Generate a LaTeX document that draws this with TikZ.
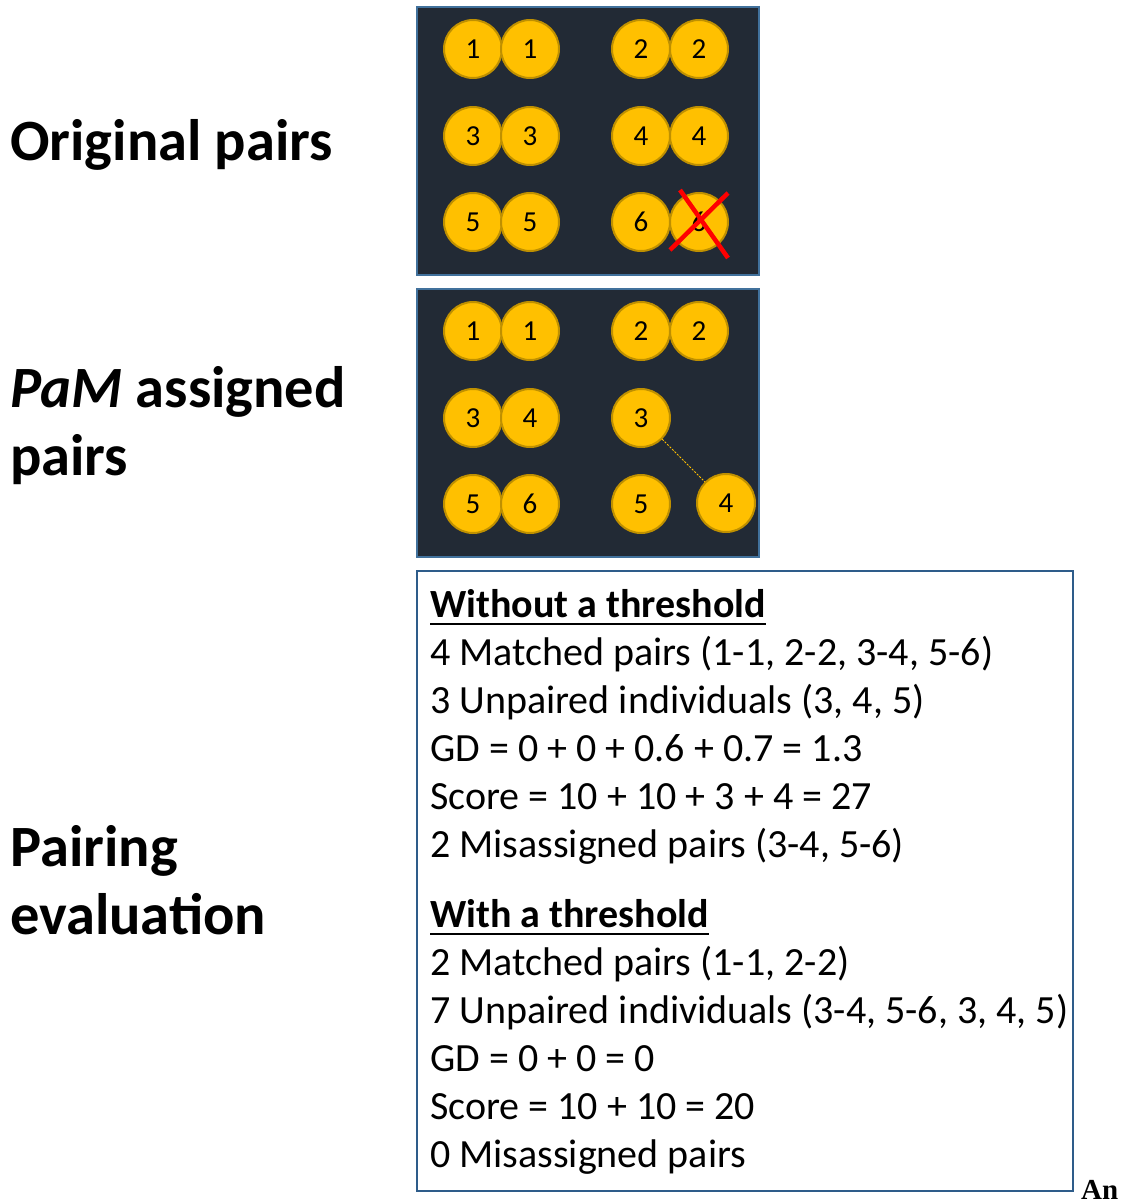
\documentclass[tikz,border=0pt]{standalone}
\usepackage{fontspec}
\setmainfont{Carlito}
\newfontfamily\anfont{Liberation Serif}
\definecolor{panel}{HTML}{222A35}
\definecolor{panelborder}{HTML}{41719C}
\definecolor{boxborder}{HTML}{2E5C8A}
\definecolor{ballfill}{HTML}{FFC000}
\definecolor{ballline}{HTML}{BF9000}
\definecolor{crossred}{HTML}{FF0000}
\tikzset{
  panelbox/.style={fill=panel, draw=panelborder, line width=2pt},
  evalbox/.style={fill=white, draw=boxborder, line width=2pt},
  ball/.style={circle, minimum size=58pt, inner sep=0pt, fill=ballfill, draw=ballline, line width=2pt, font=\fontsize{29}{29}\selectfont},
  biglabel/.style={anchor=base west, inner sep=0pt, font=\fontsize{58.5}{66}\selectfont\bfseries},
  txt/.style={anchor=base west, inner sep=0pt, font=\fontsize{40}{48}\selectfont},
  head/.style={anchor=base west, inner sep=0pt, font=\fontsize{40}{48}\selectfont\bfseries},
  uline/.style={line width=2pt},
  redx/.style={draw=crossred, line width=4.5pt},
  link/.style={draw=ballfill, line width=1pt, dash pattern=on 2pt off 1.5pt}
}
\begin{document}
\begin{tikzpicture}[x=1pt,y=-1pt]
\useasboundingbox (0,0) rectangle (1126,1203);
% panels
\draw[panelbox] (417,7) rectangle (759,275);
\draw[panelbox] (417,289) rectangle (759,557);
\draw[evalbox] (417,571) rectangle (1073,1191);
% original pairs
\node[ball] (o1a) at (473,49) {1};
\node[ball] (o1b) at (530,49) {1};
\node[ball] (o2a) at (641,49) {2};
\node[ball] (o2b) at (699,49) {2};
\node[ball] (o3a) at (473,136) {3};
\node[ball] (o3b) at (530,136) {3};
\node[ball] (o4a) at (641,136) {4};
\node[ball] (o4b) at (699,136) {4};
\node[ball] (o5a) at (473,222) {5};
\node[ball] (o5b) at (530,222) {5};
\node[ball] (o6a) at (641,222) {6};
\node[ball] (o6b) at (699,222) {6};
\draw[redx] (680,190) -- (728,258);
\draw[redx] (728,193) -- (670,250);
% PaM assigned
\node[ball] (p1a) at (473,331) {1};
\node[ball] (p1b) at (530,331) {1};
\node[ball] (p2a) at (641,331) {2};
\node[ball] (p2b) at (699,331) {2};
\node[ball] (p3a) at (473,418) {3};
\node[ball] (p4a) at (530,418) {4};
\node[ball] (p3b) at (641,418) {3};
\node[ball] (p5a) at (473,504) {5};
\node[ball] (p6a) at (530,504) {6};
\node[ball] (p5b) at (641,504) {5};
\node[ball] (p4b) at (726,503) {4};
\draw[link] (p3b) -- (p4b);
% left labels
\node[biglabel] (l1) at (10,160) {Original pairs};
\node[biglabel] (l2a) at (10,407) {\textit{PaM} assigned};
\node[biglabel] (l2b) at (10,475) {pairs};
\node[biglabel] (l3a) at (10,866) {Pairing};
\node[biglabel] (l3b) at (10,934) {evaluation};
% evaluation text
\node[head] (h1) at (430,617) {Without a threshold};
\draw[uline] ([yshift=-7pt]h1.base west) -- ([yshift=-7pt]h1.base east);
\node[txt] (t1) at (430,665) {4 Matched pairs (1-1, 2-2, 3-4, 5-6)};
\node[txt] (t2) at (430,713) {3 Unpaired individuals (3, 4, 5)};
\node[txt] (t3) at (430,761) {GD = 0 + 0 + 0.6 + 0.7 = 1.3};
\node[txt] (t4) at (430,809) {Score = 10 + 10 + 3 + 4 = 27};
\node[txt] (t5) at (430,857) {2 Misassigned pairs (3-4, 5-6)};
\node[head] (h2) at (430,927) {With a threshold};
\draw[uline] ([yshift=-7pt]h2.base west) -- ([yshift=-7pt]h2.base east);
\node[txt] (s1) at (430,975) {2 Matched pairs (1-1, 2-2)};
\node[txt] (s2) at (430,1023) {7 Unpaired individuals (3-4, 5-6, 3, 4, 5)};
\node[txt] (s3) at (430,1071) {GD = 0 + 0 = 0};
\node[txt] (s4) at (430,1119) {Score = 10 + 10 = 20};
\node[txt] (s5) at (430,1167) {0 Misassigned pairs};
\node[anchor=base west, inner sep=0pt, font=\anfont\bfseries\fontsize{29}{32}\selectfont] (an) at (1081,1199) {An};
\end{tikzpicture}
\end{document}
